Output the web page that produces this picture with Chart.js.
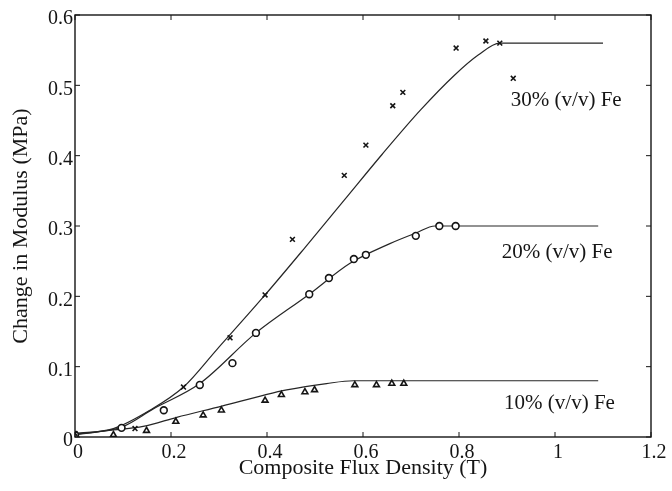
<!DOCTYPE html>
<html>
<head>
<meta charset="utf-8">
<title>Change in Modulus vs Flux Density</title>
<script src="https://cdn.jsdelivr.net/npm/chart.js@4.4.1/dist/chart.umd.min.js"></script>
<style>
  html, body { margin: 0; padding: 0; background: #fff; }
  #wrap { width: 672px; height: 491px; }
</style>
</head>
<body>
<div id="wrap"><canvas id="modChart" width="672" height="491"></canvas></div>
<script>
// Measured points, Composite Flux Density (T) vs Change in Modulus (MPa)
const pts30X = [0, 0.125, 0.226, 0.323, 0.396, 0.453, 0.561, 0.606, 0.662, 0.683, 0.794, 0.856, 0.885, 0.913];
const pts30Y = [0.005, 0.012, 0.071, 0.141, 0.202, 0.281, 0.372, 0.415, 0.471, 0.49, 0.553, 0.563, 0.56, 0.51];

const pts20X = [0, 0.097, 0.185, 0.26, 0.328, 0.377, 0.488, 0.529, 0.581, 0.606, 0.71, 0.759, 0.793];
const pts20Y = [0.003, 0.013, 0.038, 0.074, 0.105, 0.148, 0.203, 0.226, 0.253, 0.259, 0.286, 0.3, 0.3];

const pts10X = [0.08, 0.149, 0.21, 0.267, 0.305, 0.396, 0.43, 0.479, 0.499, 0.583, 0.628, 0.66, 0.685];
const pts10Y = [0.003, 0.009, 0.022, 0.031, 0.038, 0.052, 0.06, 0.064, 0.067, 0.074, 0.074, 0.076, 0.076];

// Model curves
const fit30X = [0, 0.08, 0.156, 0.226, 0.295, 0.396, 0.48, 0.56, 0.64, 0.72, 0.79, 0.84, 0.885, 1.1];
const fit30Y = [0.005, 0.012, 0.038, 0.071, 0.124, 0.202, 0.27, 0.336, 0.402, 0.465, 0.514, 0.543, 0.56, 0.56];

const fit20X = [0, 0.1, 0.163, 0.26, 0.377, 0.488, 0.573, 0.656, 0.71, 0.75, 1.09];
const fit20Y = [0.003, 0.015, 0.04, 0.076, 0.148, 0.203, 0.247, 0.275, 0.29, 0.3, 0.3];

const fit10X = [0, 0.08, 0.142, 0.212, 0.306, 0.396, 0.441, 0.524, 0.58, 1.09];
const fit10Y = [0.004, 0.01, 0.015, 0.028, 0.044, 0.06, 0.067, 0.076, 0.08, 0.08];

const seriesNames = ["30% (v/v) Fe", "20% (v/v) Fe", "10% (v/v) Fe"];
const xTicks = [0, 0.2, 0.4, 0.6, 0.8, 1, 1.2];
const yTicks = [0, 0.1, 0.2, 0.3, 0.4, 0.5, 0.6];

document.addEventListener("DOMContentLoaded", () => {
  const ink = "#151515";
  const serif = "'Liberation Serif', 'DejaVu Serif', serif";

  const toXY = (xs, ys) => xs.map((x, i) => ({ x: x, y: ys[i] }));

  function curve(xs, ys) {
    return {
      data: toXY(xs, ys),
      showLine: true,
      borderColor: "#262626",
      borderWidth: 1.2,
      pointRadius: 0,
      cubicInterpolationMode: "monotone",
      order: 2
    };
  }

  function marks(xs, ys, style, fill) {
    return {
      data: toXY(xs, ys),
      showLine: false,
      pointStyle: style,
      pointRadius: 3.4,
      pointBorderWidth: 1.6,
      pointBorderColor: ink,
      pointBackgroundColor: fill,
      order: 1
    };
  }

  // series names sit right of the plateaus, anchored in data units
  const nameAnchors = [
    { x: 0.908, y: 0.479 },
    { x: 0.889, y: 0.262 },
    { x: 0.894, y: 0.047 }
  ];

  const decorations = {
    id: "decorations",
    afterDraw(chart) {
      const { ctx, chartArea: a, scales } = chart;
      ctx.save();
      ctx.strokeStyle = ink;
      ctx.lineWidth = 1.4;
      ctx.strokeRect(a.left, a.top, a.right - a.left, a.bottom - a.top);

      // inward ticks on all four sides
      const t = 5;
      ctx.lineWidth = 1;
      ctx.beginPath();
      xTicks.forEach(v => {
        const px = scales.x.getPixelForValue(v);
        ctx.moveTo(px, a.bottom); ctx.lineTo(px, a.bottom - t);
        ctx.moveTo(px, a.top); ctx.lineTo(px, a.top + t);
      });
      yTicks.forEach(v => {
        const py = scales.y.getPixelForValue(v);
        ctx.moveTo(a.left, py); ctx.lineTo(a.left + t, py);
        ctx.moveTo(a.right, py); ctx.lineTo(a.right - t, py);
      });
      ctx.stroke();

      ctx.fillStyle = ink;
      ctx.font = "21px " + serif;
      ctx.textAlign = "left";
      ctx.textBaseline = "middle";
      seriesNames.forEach((name, i) => {
        const p = nameAnchors[i];
        ctx.fillText(name, scales.x.getPixelForValue(p.x), scales.y.getPixelForValue(p.y));
      });
      ctx.restore();
    }
  };

  const fmt = v => String(Number(v.toFixed(1)));

  new Chart(document.getElementById("modChart"), {
    type: "scatter",
    data: {
      datasets: [
        curve(fit30X, fit30Y),
        curve(fit20X, fit20Y),
        curve(fit10X, fit10Y),
        marks(pts30X, pts30Y, "crossRot", ink),
        marks(pts20X, pts20Y, "circle", "#fff"),
        marks(pts10X, pts10Y, "triangle", "#fff")
      ]
    },
    options: {
      responsive: false,
      animation: false,
      layout: { padding: { top: 15, right: 21, left: 0, bottom: 0 } },
      plugins: {
        legend: { display: false },
        tooltip: { enabled: false }
      },
      scales: {
        x: {
          type: "linear",
          min: 0,
          max: 1.2,
          afterBuildTicks: s => { s.ticks = xTicks.map(v => ({ value: v })); },
          afterFit: s => { s.height = 54; s.paddingLeft = 0; s.paddingRight = 0; },
          grid: { display: false, drawTicks: false },
          border: { display: false },
          ticks: {
            color: ink,
            font: { family: serif, size: 20 },
            padding: 4,
            labelOffset: 3,
            maxRotation: 0,
            callback: v => fmt(v)
          },
          title: {
            display: true,
            text: "Composite Flux Density (T)",
            color: ink,
            font: { family: serif, size: 22 },
            padding: { top: 0, bottom: 10 }
          }
        },
        y: {
          type: "linear",
          min: 0,
          max: 0.6,
          afterBuildTicks: s => { s.ticks = yTicks.map(v => ({ value: v })); },
          afterFit: s => { s.width = 75; s.paddingTop = 0; s.paddingBottom = 0; },
          grid: { display: false, drawTicks: false },
          border: { display: false },
          ticks: {
            color: ink,
            font: { family: serif, size: 20 },
            padding: 2,
            labelOffset: 4,
            callback: v => fmt(v)
          },
          title: {
            display: true,
            text: "Change in Modulus (MPa)",
            color: ink,
            font: { family: serif, size: 22 },
            padding: { top: 8, bottom: 0 }
          }
        }
      }
    },
    plugins: [decorations]
  });
});
</script>
</body>
</html>
